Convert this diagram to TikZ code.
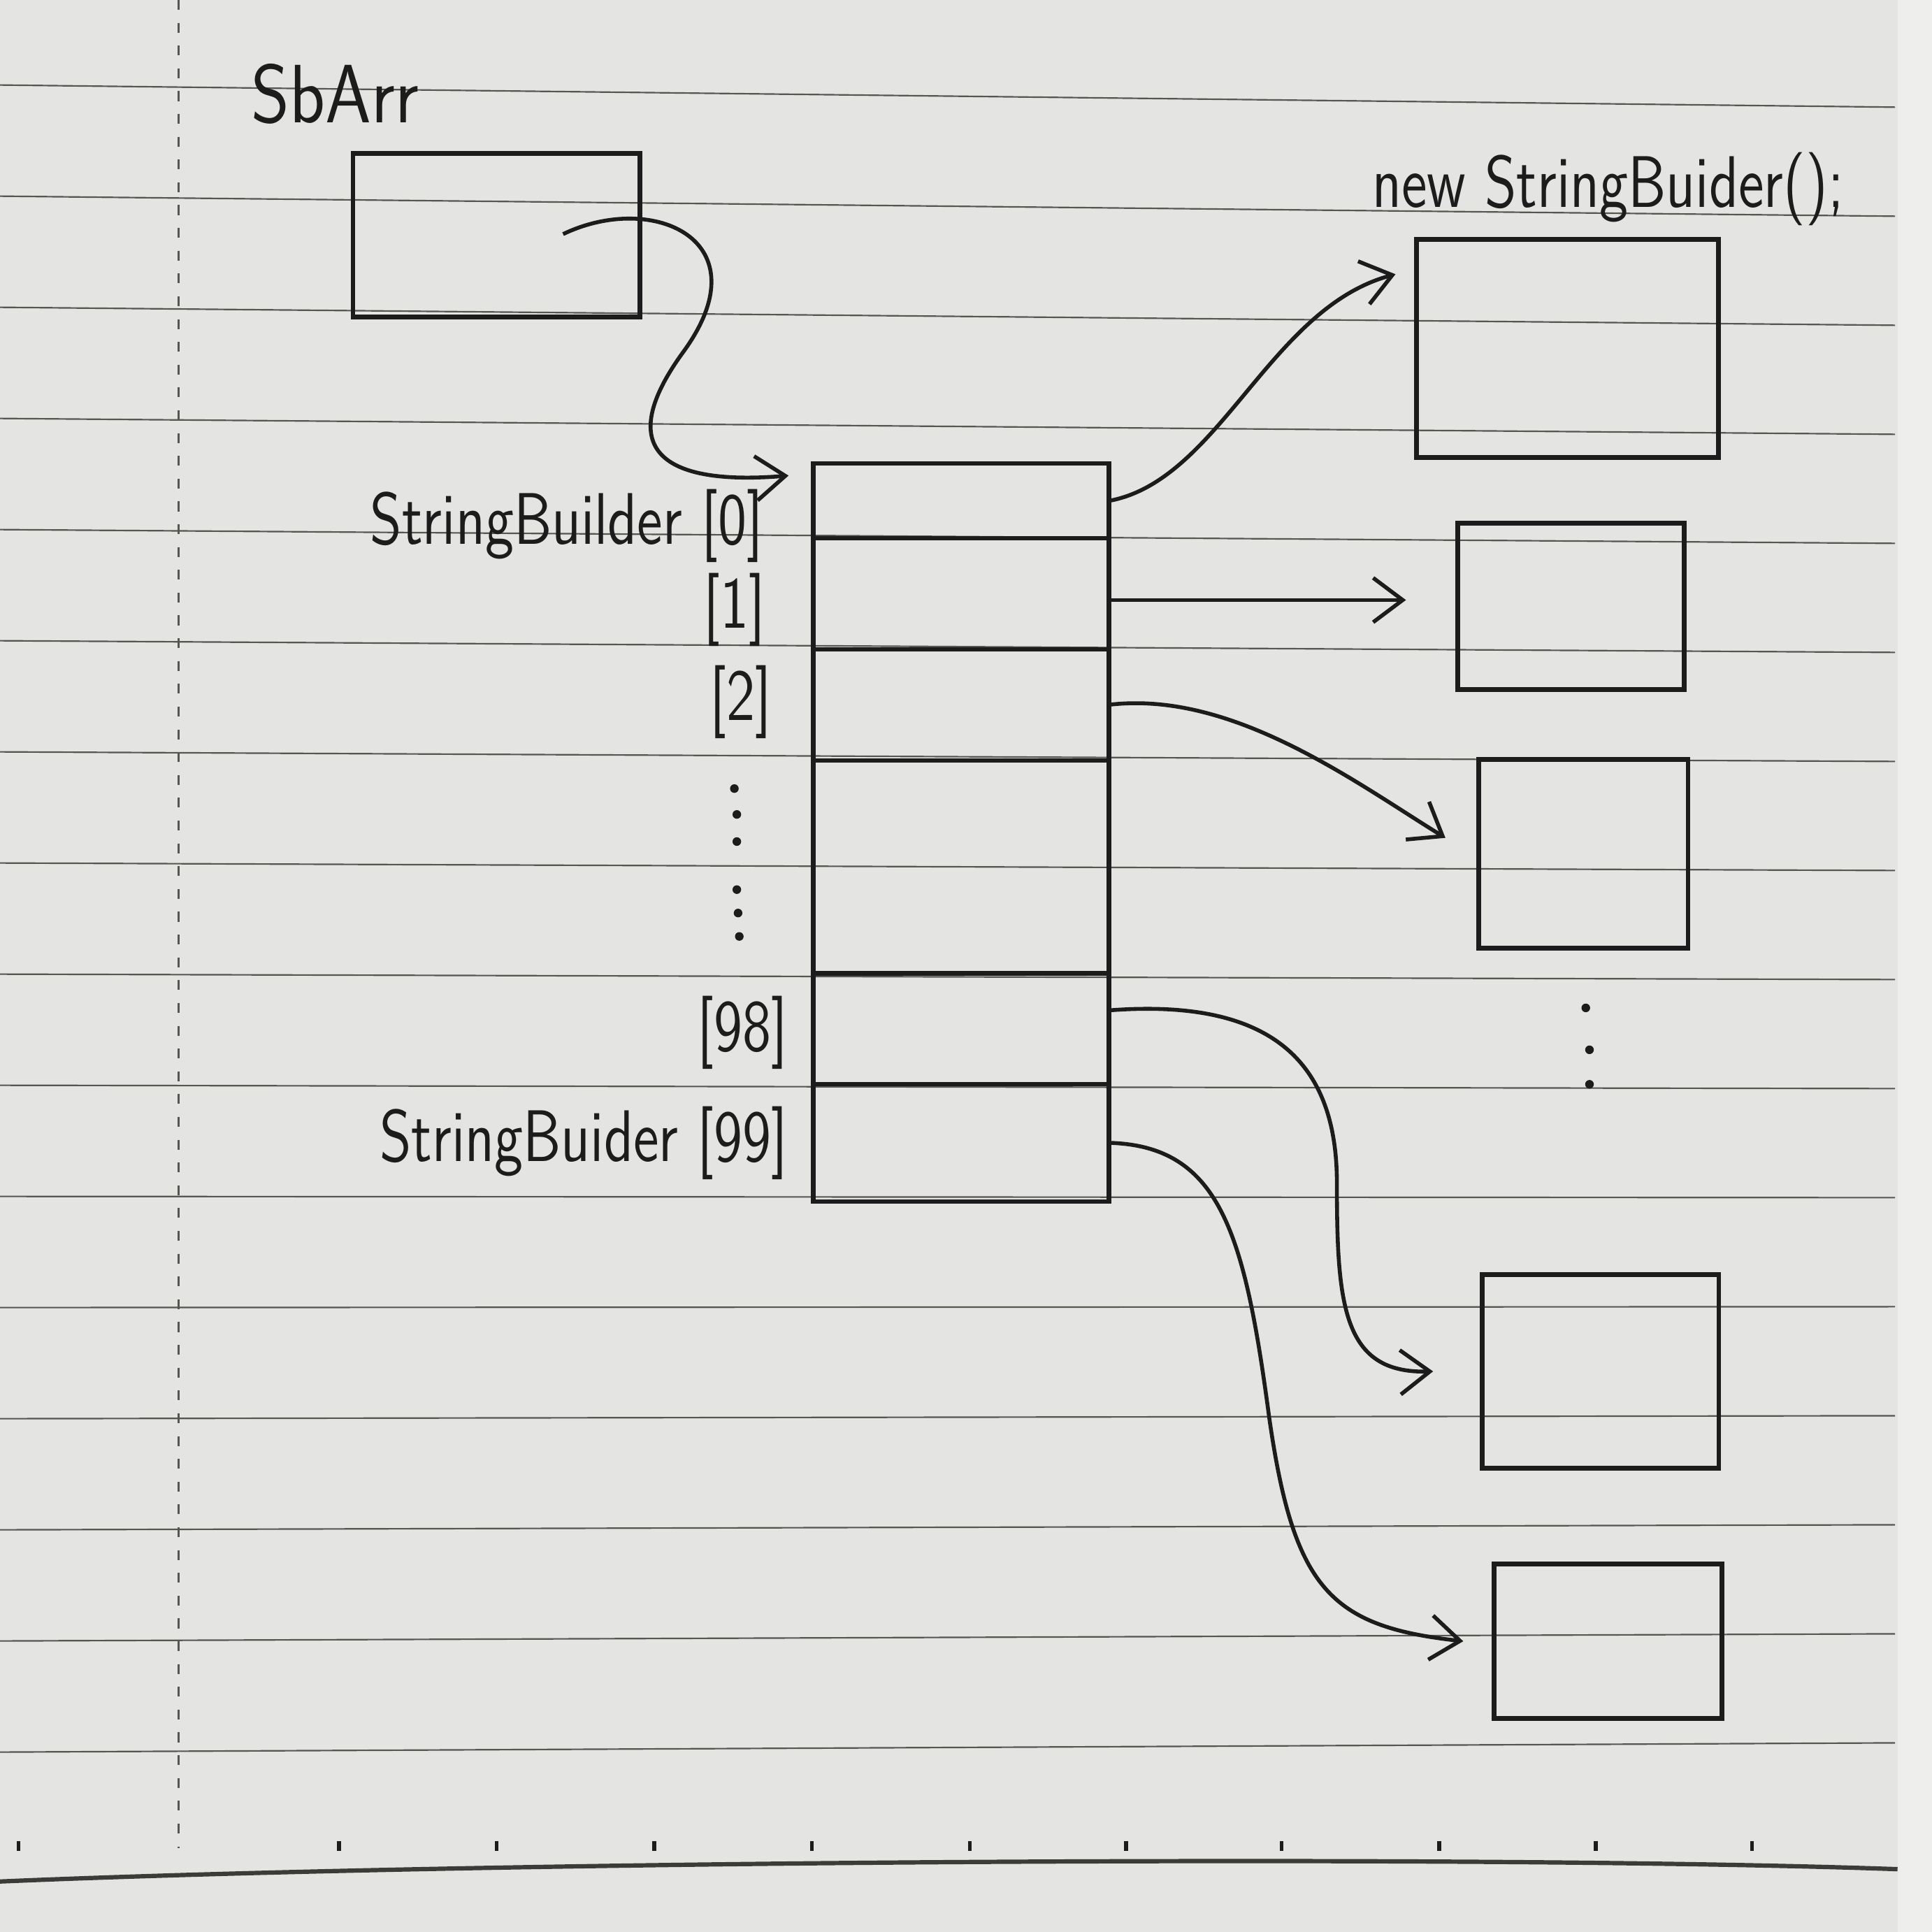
\documentclass[tikz,border=0pt]{standalone}
\usepackage{tikz}
\usetikzlibrary{arrows.meta,positioning}

\definecolor{paper}{HTML}{E4E5E2}
\definecolor{paperedge}{HTML}{EEEFEC}
\definecolor{ink}{HTML}{1C1C1C}
\definecolor{rule}{HTML}{55564F}

\tikzset{
  cell/.style={draw=ink, line width=1pt, minimum width=2.4cm, inner sep=0pt, outer sep=0pt},
  objbox/.style={draw=ink, line width=1.1pt, inner sep=0pt},
  ref/.style={draw=ink, line width=0.9pt, -{Straight Barb[length=2.4mm,width=3.6mm]}},
  hand/.style={font=\sffamily\fontsize{13.5}{15}\selectfont, text=ink, inner sep=0pt, yscale=1.25, transform shape},
}

\begin{document}
\begin{tikzpicture}
    \useasboundingbox (0,0) rectangle (15.68,-15.68);

    % ================= PAPER =================
    \fill[paper] (0,0) rectangle (15.68,-15.68);
    \fill[paperedge] (15.40,0) rectangle (15.68,-15.68);
    \foreach \i in {0,...,15}
        \draw[rule, line width=0.35pt] (0,{-0.69-0.902*\i}) -- (15.38,{-0.87-0.885*\i});
    \draw[rule!70!black, line width=1pt] (0,-15.27) .. controls (4,-15.10) and (12,-15.05) .. (15.40,-15.17);
    \draw[rule, line width=0.4pt, dash pattern=on 0.8mm off 1.05mm] (1.45,0) -- (1.45,-15.0);
    \foreach \x in {0.15,2.75,4.03,5.31,6.59,7.87,9.14,10.40,11.68,12.95,14.22}
        \draw[ink, line width=0.9pt] (\x,-14.94) -- (\x,-15.02);

    % ================= REFERENCE =================
    \node[hand, font=\sffamily\fontsize{17}{19}\selectfont, yscale=0.9] (sbarrlbl) at (2.72,-0.76) {SbArr};
    \node[objbox, minimum width=2.33cm, minimum height=1.33cm] (sbarr) at (4.03,-1.91) {};
    \coordinate (sbref) at (4.57,-1.90);

    % ================= ARRAY =================
    \node[cell, minimum height=0.61cm] (c0) at (7.80,-4.065) {};
    \node[cell, minimum height=0.90cm, below=0pt of c0] (c1) {};
    \node[cell, minimum height=0.90cm, below=0pt of c1] (c2) {};
    \node[cell, minimum height=1.73cm, below=0pt of c2] (cdots) {};
    \node[cell, minimum height=0.90cm, below=0pt of cdots] (c98) {};
    \node[cell, minimum height=0.95cm, below=0pt of c98] (c99) {};

    % Index labels
    \node[hand, anchor=east] (l0)  at (6.20,-4.27) {StringBuilder [0]};
    \node[hand, anchor=east] (l1)  at (6.22,-4.95) {[1]};
    \node[hand, anchor=east] (l2)  at (6.27,-5.70) {[2]};
    \node[hand, anchor=east] (l98) at (6.40,-8.38) {[98]};
    \node[hand, anchor=east] (l99) at (6.40,-9.28) {StringBuider [99]};

    % Vertical dots
    \foreach \p in {(5.96,-6.40),(5.98,-6.61),(5.98,-6.83),(5.98,-7.22),(5.99,-7.41),(6.00,-7.60)}
        \fill[ink] \p circle (0.035);

    % ================= OBJECTS =================
    \node[hand, anchor=base] (newlbl) at (13.05,-1.68) {new StringBuider();};
    \node[objbox, minimum width=2.45cm, minimum height=1.77cm] (sb0) at (12.72,-2.83) {};
    \node[objbox, minimum width=1.84cm, minimum height=1.35cm] (sb1) at (12.75,-4.92) {};
    \node[objbox, minimum width=1.70cm, minimum height=1.53cm] (sb2) at (12.85,-6.93) {};
    \node[objbox, minimum width=1.92cm, minimum height=1.57cm] (sb98) at (12.99,-11.13) {};
    \node[objbox, minimum width=1.85cm, minimum height=1.25cm] (sb99) at (13.05,-13.32) {};

    \foreach \p in {(12.87,-8.18),(12.90,-8.52),(12.90,-8.80)}
        \fill[ink] \p circle (0.035);

    % References
    \draw[ref] (sbref) .. controls (5.3,-1.55) and (6.2,-1.95) .. (5.55,-2.85)
        .. controls (5.0,-3.6) and (5.3,-3.95) .. ([shift={(-0.2,-0.1)}]c0.north west);
    \draw[ref] (c0.east) .. controls (9.9,-3.9) and (10.3,-2.5) .. ([shift={(-0.15,-0.30)}]sb0.north west);
    \draw[ref, shorten >=4mm] ([yshift=-0.5mm]c1.east) -- ([yshift=-0.5mm]c1.east -| sb1.west);
    \draw[ref] (c2.east) .. controls (10.0,-5.6) and (11.0,-6.35) .. ([shift={(-0.25,0.13)}]sb2.west);
    \draw[ref] ([yshift=1.5mm]c98.east) .. controls (10.3,-8.1) and (10.85,-8.6) .. (10.85,-9.6)
        .. controls (10.85,-10.6) and (10.9,-11.15) .. ([xshift=-3.8mm]sb98.west);
    \draw[ref] (c99.east) .. controls (9.9,-9.3) and (10.1,-10.0) .. (10.3,-11.5)
        .. controls (10.5,-12.9) and (10.8,-13.2) .. ([xshift=-2.3mm]sb99.west);
\end{tikzpicture}
\end{document}
